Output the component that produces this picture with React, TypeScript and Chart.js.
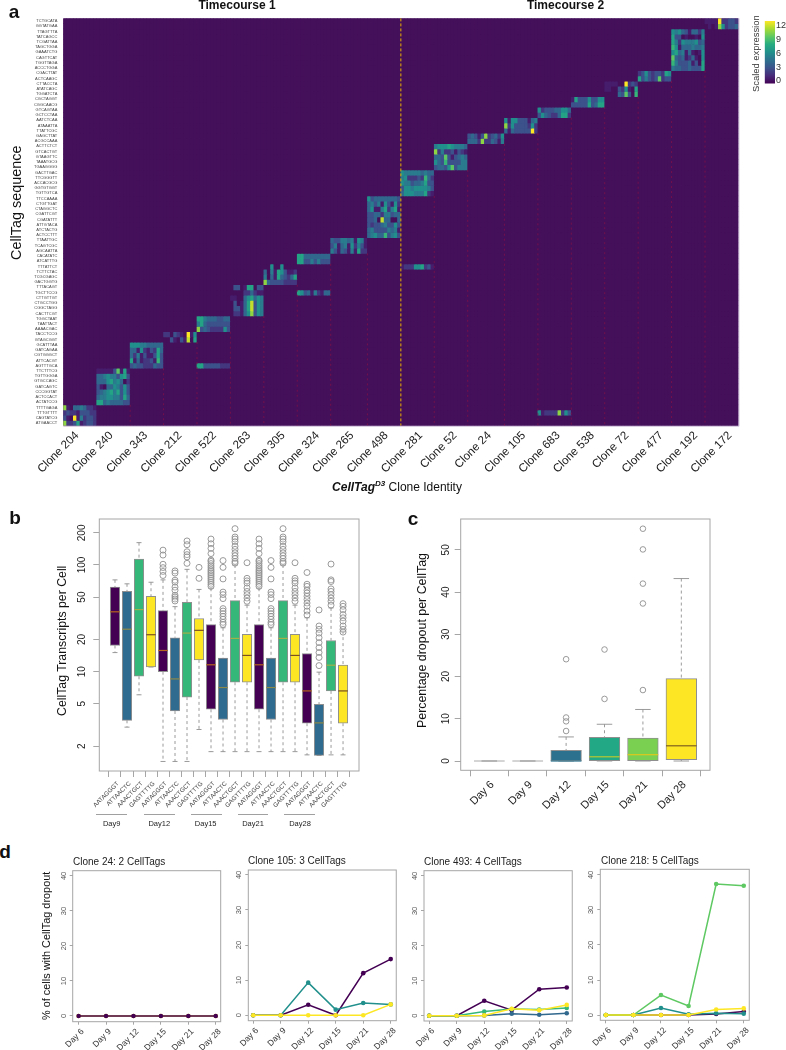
import React, { useEffect, useRef } from "react";
import { Chart, registerables } from "chart.js";

Chart.register(...registerables);

const FONT = '"Liberation Sans", Arial, sans-serif';

// ---------- panel a ----------
const tagLabels = ["TCTGCATA","GGTATGAA","TTAGTTTA","TATCAGCC","TCGATTAA","TAGCTGGA","GAAATCTG","CAGTTCAT","TGGTTAGA","ACCCTGGA","CGACTTAT","ACTCAAGC","CTTACCTA","ATATCAGC","TGGATCTA","CGCTAGGT","CGGCAACG","GTCAGTAA","GCTCCTAA","AATCTCAA","ATAAATTA","TTATTCGC","GAGCTTAT","ACGCCAAA","ACTTCTCT","GTCACTGT","GTAAGTTC","TAAATGCG","TGAAGGGG","GACTTGAC","TTCGGGTT","ACCACGCG","GGTGTGGT","TGTTGTCA","TTCCAAAA","CTGTTGAT","CTAGGCTC","CGATTCGT","CGATATTT","ATTGTACA","ATCTACTG","ACTCCTTT","TTAATTGC","TCAGTCGC","AGCAATTA","CACATATC","ATCATTTG","TTTATTCT","TCTTCTAC","TCGCGAGC","GACTGGTG","TTTACAGT","TGCTTCCG","CTTGTTGT","CTGCCTGG","CGGCTAGG","CACTTCGT","TGGCTAAT","TAATTACT","AAAACGAC","TACCTCCG","GTAGCGGT","GCATTTAA","GATCAGAA","CGTGGGCT","ATTCACGT","AGTTTGCA","TTCTTTCG","TGTTGGGA","GTGCCAGC","GATCAGTC","CCCGGTAT","ACTCCACT","ACTATCCG","TTTTGAGA","TTTGTTTT","CAGTATCG","ATGAACCT"];
const cloneNames = ["Clone 204","Clone 240","Clone 343","Clone 212","Clone 522","Clone 263","Clone 305","Clone 324","Clone 265","Clone 498","Clone 281","Clone 52","Clone 24","Clone 105","Clone 683","Clone 538","Clone 72","Clone 477","Clone 192","Clone 172"];
const cloneCellCounts = [10,10,10,10,10,10,10,10,11,10,10,10,11,10,10,10,10,10,10,10];

const cells204 = ["a104454221","2322133322","310c152332","a223712332"];
const cells240 = ["1111139171","4456553673","4446756402","3104465363","3456757363","4556655374","7745444433"];
const cells343 = ["6665544444","4416213274","4251311373","7141223183","3433222433"];
const cells212 = ["2203210c16","0031031b07"];
const cells522 = ["7754443344","5743333333","a343222263"];
const cells263 = ["0330177033","0000224211","1100467465","030147b365","033147b365","022146a365"];
const cells305 = ["0060060000","4051763112","5041743247","a433332222"];
const cells324 = ["7744444444","7733535333"];
const cells265 = ["43355451651","35145162531","53143151722"];
const cells498 = ["6344444443","4535163162","4611572571","3344255344","3340b44004","3233453363","4533335451","4564483563"];
const cells281 = ["6555554544","5622232842","6553445733","3665666653","4666555721"];
const cells52 = ["5666765554","a252231321","4439313454","6438333355","3443693555"];
const cells24 = ["34313a23426","4442a224315"];
const cells105 = ["6166333145","a263333262","41433333c2"];
const cells683 = ["6233344664","3643224772"];
const cells538 = ["1733363366","3333373477"];
const cells72 = ["111100c232","1100326107","0000439308"];
const cells477 = ["2363233276","7353239233"];
const cells192 = ["6564314425","7330100106","7526555634","8614445445","6745141016","9434124106","8533341307","5443343337"];
const cells172 = ["1111c22332","0101a62334"];
const extra522 = ["7733333222"];
const extra324 = ["7634152144"];
const extra281 = ["1222667231"];
const extra683 = ["612222a263"];

// clone index, first row, cells
const heatBlocks: [number, number, string[]][] = [
  [0,74,cells204],[1,67,cells240],[2,62,cells343],[3,60,cells212],[4,57,cells522],[5,51,cells263],
  [6,47,cells305],[7,45,cells324],[8,42,cells265],[9,34,cells498],[10,29,cells281],[11,24,cells52],
  [12,22,cells24],[13,19,cells105],[14,17,cells683],[15,15,cells538],[16,12,cells72],[17,10,cells477],
  [18,2,cells192],[19,0,cells172],
];
const heatExtras: [number, number, string[]][] = [[4,66,extra522],[7,52,extra324],[10,47,extra281],[14,75,extra683]];

const viridisStops: [number, number[]][] = [[0,[68,1,84]],[0.13,[71,44,122]],[0.25,[59,82,139]],[0.38,[44,114,142]],[0.5,[33,144,140]],[0.63,[39,173,129]],[0.75,[93,200,99]],[0.88,[170,220,50]],[1,[253,231,37]]];
const viridis = (t: number) => {
  for (let i = 1; i < viridisStops.length; i++) {
    const [a, ca] = viridisStops[i - 1];
    const [b, cb] = viridisStops[i];
    if (t <= b) {
      const f = (t - a) / (b - a);
      return `rgb(${ca.map((c, k) => Math.round(c + (cb[k] - c) * f)).join(",")})`;
    }
  }
  return "rgb(253,231,37)";
};
const BG = "#45105a";
const heatColor = (v: number) => (v === 0 ? BG : viridis(v / 12));

const cloneStart: number[] = [];
cloneCellCounts.reduce((acc, n, i) => { cloneStart[i] = acc; return acc + n; }, 0);
const totalCols = cloneCellCounts.reduce((a, b) => a + b, 0);
const colLabels = Array.from({ length: totalCols }, (_, i) => "c" + i);
const heatMatrix: number[][] = tagLabels.map(() => new Array(totalCols).fill(0));
[...heatBlocks, ...heatExtras].forEach(([clone, row, rows]) =>
  rows.forEach((s, r) => s.split("").forEach((ch, c) => { heatMatrix[row + r][cloneStart[clone] + c] = parseInt(ch, 16); }))
);

const fixY = (w: number) => (s: any) => { s.width = w; };
const fixX = (h: number) => (s: any) => { s.height = h; };
const setTicks = (vals: number[]) => (s: any) => { s.ticks = vals.map((value) => ({ value })); };

const framePlugin = (color = "#a6a6a6") => ({
  id: "frame",
  afterDatasetsDraw(chart: any) {
    const { ctx, chartArea: a } = chart;
    ctx.save();
    ctx.strokeStyle = color;
    ctx.lineWidth = 1;
    ctx.strokeRect(a.left, a.top, a.right - a.left, a.bottom - a.top);
    ctx.restore();
  },
});

// the clone names sit on an even spacing along the axis, not on the block centres
const cloneLabelSlots = cloneNames.map((_, i) => (77 + 34.37 * i - 63.3) / 3.342 - 0.5);

const heatConfig = (h: number, plotBottom: number): any => ({
  type: "bar",
  data: {
    labels: colLabels,
    datasets: heatMatrix.map((row, r) => ({
      data: row.map(() => [r, r + 1]),
      backgroundColor: row.map(heatColor),
      borderWidth: 0,
      grouped: false,
      barPercentage: 1,
      categoryPercentage: 1,
    })),
  },
  options: {
    animation: false, responsive: false, devicePixelRatio: 1,
    layout: { autoPadding: false, padding: { top: 5, right: 6.6, left: 0, bottom: 0 } },
    plugins: { legend: { display: false }, tooltip: { enabled: false } },
    scales: {
      x: {
        type: "category", offset: true,
        grid: { display: false, drawTicks: false }, border: { display: false },
        afterFit: fixX(h - plotBottom),
        afterBuildTicks: setTicks(cloneLabelSlots),
        ticks: {
          autoSkip: false, minRotation: 45, maxRotation: 45, padding: 3,
          color: "#1a1a1a", font: { family: FONT, size: 11.6 },
          callback: (_v: number, i: number) => cloneNames[i],
        },
      },
      y: {
        type: "linear", min: 0, max: tagLabels.length, reverse: true, bounds: "data",
        grid: { display: false, drawTicks: false }, border: { display: false },
        afterFit: fixY(63.3),
        afterBuildTicks: setTicks(tagLabels.map((_, i) => i + 0.5)),
        ticks: {
          autoSkip: false, padding: 6, color: "#444", font: { family: FONT, size: 4 },
          callback: (v: number) => tagLabels[v - 0.5],
        },
      },
    },
  },
  plugins: [{
    id: "cloneLines",
    beforeDatasetsDraw(chart: any) {
      const { ctx, chartArea: a } = chart;
      ctx.save();
      ctx.fillStyle = BG;
      ctx.fillRect(a.left, a.top, a.right - a.left, a.bottom - a.top);
      ctx.restore();
    },
    afterDatasetsDraw(chart: any) {
      const { ctx, chartArea: a, scales: { x, y } } = chart;
      ctx.save();
      heatBlocks.slice(0, -1).forEach(([clone, row, rows]) => {
        const px = x.getPixelForValue(cloneStart[clone] + cloneCellCounts[clone] - 0.5);
        const isSplit = cloneNames[clone] === "Clone 498";
        ctx.strokeStyle = isSplit ? "#e8b100" : "#7d1048";
        ctx.lineWidth = isSplit ? 1 : 0.8;
        ctx.setLineDash(isSplit ? [3, 2] : [2, 3]);
        ctx.beginPath();
        ctx.moveTo(px, isSplit ? y.getPixelForValue(0) : y.getPixelForValue(row + rows.length));
        ctx.lineTo(px, y.getPixelForValue(tagLabels.length));
        ctx.stroke();
      });
      ctx.setLineDash([]);
      ctx.lineWidth = 0.8;
      ctx.strokeStyle = "#bba6cc";
      ctx.beginPath();
      ctx.moveTo(a.left, a.bottom + 0.5);
      ctx.lineTo(a.right + 0.5, a.bottom + 0.5);
      ctx.lineTo(a.right + 0.5, a.top);
      ctx.stroke();
      ctx.restore();
    },
  }],
});

const scaleRange = [-0.6, 13];
const scaleTicks = [0, 3, 6, 9, 12];
const colorbarConfig = (): any => ({
  type: "bar",
  data: {
    labels: ["Scaled expression"],
    datasets: [{
      data: [scaleRange],
      barPercentage: 1, categoryPercentage: 1, borderWidth: 0,
      backgroundColor: (c: any) => {
        const a = c.chart.chartArea;
        if (!a) return BG;
        const g = c.chart.ctx.createLinearGradient(0, a.bottom, 0, a.top);
        viridisStops.forEach(([t, col]) => g.addColorStop(t, `rgb(${col.join(",")})`));
        return g;
      },
    }],
  },
  options: {
    animation: false, responsive: false, devicePixelRatio: 1,
    layout: { autoPadding: false, padding: { top: 11, bottom: 3, left: 19.7, right: 0 } },
    plugins: { legend: { display: false }, tooltip: { enabled: false } },
    scales: {
      x: { display: false },
      y: {
        type: "linear", position: "right", min: scaleRange[0], max: scaleRange[1], bounds: "data",
        grid: { display: false, drawTicks: false }, border: { display: false },
        afterFit: fixY(11),
        afterBuildTicks: setTicks(scaleTicks),
        ticks: { padding: 1, color: "#333", font: { family: FONT, size: 9 }, callback: (v: number) => String(v) },
      },
    },
  },
});

// ---------- shared box plot ----------
type Box = { lo: number; q1: number; med: number; q3: number; hi: number; out: number[] };
const GREY = "#8f8f8f";

const boxConfig = (o: {
  boxes: Box[]; fills: string[]; medians: string[]; labels: string[]; yTicks: number[]; log: boolean;
  xMin: number; xMax: number; yMin: number; yMax: number; left: number; bottomH: number; right: number; top: number;
  barW: number; capW: number; xFont: number; yFont: number; r: number; yPad: number; xColor: string; xPad: number; xShift: number;
}): any => ({
  type: "bar",
  data: {
    datasets: [
      {
        type: "bar",
        data: o.boxes.map((b, i) => ({ x: i + 1, y: [b.q1, b.q3] })),
        backgroundColor: o.fills, borderColor: GREY, borderWidth: 1, borderSkipped: false,
        barThickness: o.barW,
      },
      {
        type: "scatter",
        data: o.boxes.flatMap((b, i) => b.out.map((y) => ({ x: i + 1, y }))),
        pointStyle: "circle", pointRadius: o.r, backgroundColor: "rgba(255,255,255,0.2)",
        borderColor: GREY, borderWidth: 0.9, showLine: false,
      },
    ],
  },
  options: {
    animation: false, responsive: false, devicePixelRatio: 1,
    layout: { autoPadding: false, padding: { top: o.top, right: o.right, left: 0, bottom: 0 } },
    plugins: { legend: { display: false }, tooltip: { enabled: false } },
    scales: {
      x: {
        type: "linear", offset: false, min: o.xMin, max: o.xMax, bounds: "data",
        grid: { display: true, drawOnChartArea: false, drawTicks: true, tickLength: 6, color: GREY, lineWidth: 0.8 },
        border: { display: false },
        afterFit: fixX(o.bottomH),
        afterBuildTicks: setTicks(o.labels.map((_, i) => i + 1)),
        ticks: {
          autoSkip: false, minRotation: 45, maxRotation: 45, padding: o.xPad, labelOffset: o.xShift, color: o.xColor,
          font: { family: FONT, size: o.xFont }, callback: (v: number) => o.labels[v - 1],
        },
      },
      y: {
        type: o.log ? "logarithmic" : "linear", min: o.yMin, max: o.yMax, bounds: "data",
        grid: { display: true, drawOnChartArea: false, drawTicks: true, tickLength: 6, color: GREY, lineWidth: 0.8 },
        border: { display: false },
        afterFit: fixY(o.left),
        afterBuildTicks: setTicks(o.yTicks),
        ticks: {
          autoSkip: false, minRotation: 90, maxRotation: 90, crossAlign: "center", padding: o.yPad,
          color: "#222", font: { family: FONT, size: o.yFont }, callback: (v: number) => String(v),
        },
      },
    },
  },
  plugins: [
    {
      id: "whiskers",
      beforeDatasetsDraw(chart: any) {
        const { ctx, scales: { x, y } } = chart;
        ctx.save();
        ctx.strokeStyle = GREY;
        ctx.lineWidth = 0.9;
        o.boxes.forEach((b, i) => {
          const px = x.getPixelForValue(i + 1);
          ctx.setLineDash([3, 3]);
          ctx.beginPath();
          ctx.moveTo(px, y.getPixelForValue(b.hi));
          ctx.lineTo(px, y.getPixelForValue(b.q3));
          ctx.moveTo(px, y.getPixelForValue(b.q1));
          ctx.lineTo(px, y.getPixelForValue(b.lo));
          ctx.stroke();
          ctx.setLineDash([]);
          ctx.beginPath();
          [b.hi, b.lo].forEach((v) => {
            ctx.moveTo(px - o.capW / 2, y.getPixelForValue(v));
            ctx.lineTo(px + o.capW / 2, y.getPixelForValue(v));
          });
          ctx.stroke();
        });
        ctx.restore();
      },
      afterDatasetsDraw(chart: any) {
        const { ctx, scales: { x, y } } = chart;
        ctx.save();
        ctx.lineWidth = 1.2;
        o.boxes.forEach((b, i) => {
          const px = x.getPixelForValue(i + 1);
          ctx.strokeStyle = o.medians[i];
          ctx.beginPath();
          ctx.moveTo(px - o.barW / 2, y.getPixelForValue(b.med));
          ctx.lineTo(px + o.barW / 2, y.getPixelForValue(b.med));
          ctx.stroke();
        });
        ctx.restore();
      },
    },
    framePlugin(),
  ],
});

// ---------- panel b ----------
const tagNamesB = ["AATAGGGT","ATTAACTC","AAACTGCT","GAGTTTTG"];
const labelsB = [...tagNamesB, ...tagNamesB, ...tagNamesB, ...tagNamesB, ...tagNamesB];
const fillsTag = ["#440154","#2f6a8f","#35b779","#fde725"];
const mediansTag = ["#b5651d","#8c8a4a","#a2b04a","#7a4f22"];
const fillsB = [...fillsTag, ...fillsTag, ...fillsTag, ...fillsTag, ...fillsTag];
const mediansB = [...mediansTag, ...mediansTag, ...mediansTag, ...mediansTag, ...mediansTag];
const daysB = ["Day9","Day12","Day15","Day21","Day28"];
const out9 = [175,158,143,128,111,108,103,98,94,90,87,84,81,78,75,72,69,66,63];
const out10 = [110,95,74,55.7,52.7,48.4,39,37,35,33,31,29,27.7];
const out11 = [219,183,175,165,150,140,130,122,115,108,104];
const out12 = [105,75,71,67.6,60.9,56.5,52.7,49,45.7];
const boxesB: Box[] = [
  { lo: 15.1, q1: 17.6, med: 36.4, q3: 62, hi: 72.5, out: [] },
  { lo: 3.02, q1: 3.5, med: 25, q3: 56.5, hi: 66.6, out: [] },
  { lo: 6.07, q1: 9.05, med: 38.2, q3: 113.7, hi: 162, out: [] },
  { lo: 11.05, q1: 11.05, med: 22.2, q3: 50.8, hi: 68.9, out: [] },
  { lo: 1.44, q1: 10, med: 15.8, q3: 37.4, hi: 72.5, out: [137.8,123.9,101.5,94.4,86.9,79.7] },
  { lo: 1.44, q1: 4.28, med: 8.55, q3: 20.8, hi: 40.7, out: [88,84,72,69,62,58,52,50,48,46] },
  { lo: 1.44, q1: 5.78, med: 23, q3: 44.7, hi: 91, out: [168,155,133,125,119,103.6] },
  { lo: 2.87, q1: 12.9, med: 24.4, q3: 31.5, hi: 59, out: [95,75] },
  { lo: 1.78, q1: 4.44, med: 11.6, q3: 27.7, hi: 60.6, out: out9 },
  { lo: 1.78, q1: 3.56, med: 7.1, q3: 13.4, hi: 25.8, out: out10 },
  { lo: 1.78, q1: 7.96, med: 20.5, q3: 46.3, hi: 100, out: out11 },
  { lo: 1.78, q1: 7.96, med: 14.2, q3: 22.4, hi: 42, out: out12 },
  { lo: 1.78, q1: 4.44, med: 11.6, q3: 27.7, hi: 60.6, out: out9 },
  { lo: 1.78, q1: 3.56, med: 7.1, q3: 13.4, hi: 25.8, out: out10 },
  { lo: 1.78, q1: 7.96, med: 20.5, q3: 46.3, hi: 100, out: out11 },
  { lo: 1.78, q1: 7.96, med: 14.2, q3: 22.4, hi: 42, out: out12 },
  { lo: 1.66, q1: 3.29, med: 6.6, q3: 14.8, hi: 32, out: [85,66,63,58,54.6,50.9,47.5,44,41,37,34] },
  { lo: 1.64, q1: 1.64, med: 3.31, q3: 4.94, hi: 9.9, out: [37.9,26.8,24.9,23,20.8,18.7,16.8,15.1,13.6,11.4] },
  { lo: 1.66, q1: 6.6, med: 11.5, q3: 19.6, hi: 39.6, out: [102,72.5,70,59.7,56.5,52.7,49,45.7,42] },
  { lo: 1.66, q1: 3.29, med: 6.6, q3: 11.5, hi: 24, out: [43.4,41,38,34.3,32,29.8,26.8,24.9,23.5] },
];
const ticksB = [2, 5, 10, 20, 50, 100, 200];

// ---------- panel c ----------
const daysAll = ["Day 6","Day 9","Day 12","Day 15","Day 21","Day 28"];
const fillsC = ["#b8b8b8","#b8b8b8","#2c728e","#22a884","#7ad151","#fde725"];
const mediansC = ["#b8b8b8","#b8b8b8","#2c728e","#b8c830","#dcc81e","#7d5f1e"];
const boxesC: Box[] = [
  { lo: 0, q1: 0, med: 0, q3: 0, hi: 0, out: [] },
  { lo: 0, q1: 0, med: 0, q3: 0, hi: 0, out: [] },
  { lo: 0, q1: 0, med: 0, q3: 2.5, hi: 5.7, out: [7.1,9.4,10.3,24.1] },
  { lo: 0, q1: 0, med: 1, q3: 5.6, hi: 8.7, out: [14.7,26.4] },
  { lo: 0, q1: 0, med: 1.5, q3: 5.4, hi: 12.2, out: [16.8,37.3,42,50.1,55] },
  { lo: 0, q1: 0.3, med: 3.6, q3: 19.5, hi: 43.2, out: [] },
];
const ticksC = [0, 10, 20, 30, 40, 50];

// ---------- panel d ----------
const PURPLE = "#440154", BLUE = "#31688e", TEAL = "#21908c", MINT = "#35b779", LIME = "#5ec962", YELLOW = "#fde725";
const c24Second = [0,0,0,0,0,0];
const c24First = [0,0,0,0,0,0];
const c105Purple = [0,0,3,0,12,16];
const c105Teal = [0,0,9.3,1.6,3.5,3.1];
const c105Yellow = [0,0,0,0,0,3.1];
const c493Purple = [0,0,4.3,1.6,7.6,8.1];
const c493Blue = [0,0,0.1,0.6,0.3,0.7];
const c493Mint = [0,0,1.2,1.9,1.8,2.2];
const c493Yellow = [0,0,0.1,2,1.6,3.1];
const c218Purple = [0,0,0,0,0.3,1];
const c218Teal = [0,0,2,0.2,0.5,0.4];
const c218Lime = [0,0,5.7,2.6,37.4,36.9];
const c218Yellow = [0,0,0,0,1.6,1.9];
const ticksD = [0, 10, 20, 30, 40];

// listed from bottom to top; Chart.js paints the first dataset last, so the list is reversed
const lineConfig = (series: [string, number[]][], o: { left: number; bottomH: number; top: number; xMin: number; xMax: number; yMin: number; yMax: number }): any => ({
  type: "line",
  data: {
    datasets: [...series].reverse().map(([color, vals]) => ({
      data: vals.map((y, i) => ({ x: i + 1, y })),
      borderColor: color, backgroundColor: color, borderWidth: 1.5, pointRadius: 2.3, pointBorderWidth: 0, tension: 0,
    })),
  },
  options: {
    animation: false, responsive: false, devicePixelRatio: 1,
    layout: { autoPadding: false, padding: { top: o.top, right: 1, left: 0, bottom: 0 } },
    plugins: { legend: { display: false }, tooltip: { enabled: false } },
    scales: {
      x: {
        type: "linear", min: o.xMin, max: o.xMax, bounds: "data",
        grid: { display: true, drawOnChartArea: false, drawTicks: true, tickLength: 3, color: GREY, lineWidth: 0.8 },
        border: { display: false },
        afterFit: fixX(o.bottomH),
        afterBuildTicks: setTicks(daysAll.map((_, i) => i + 1)),
        ticks: {
          autoSkip: false, minRotation: 45, maxRotation: 45, padding: 2, labelOffset: 4, color: "#333",
          font: { family: FONT, size: 8.5 }, callback: (v: number) => daysAll[v - 1],
        },
      },
      y: {
        type: "linear", min: o.yMin, max: o.yMax, bounds: "data",
        grid: { display: true, drawOnChartArea: false, drawTicks: true, tickLength: 3, color: GREY, lineWidth: 0.8 },
        border: { display: false },
        afterFit: fixY(o.left),
        afterBuildTicks: setTicks(ticksD),
        ticks: {
          autoSkip: false, minRotation: 90, maxRotation: 90, crossAlign: "center", padding: 2, color: "#555",
          font: { family: FONT, size: 7.5 }, callback: (v: number) => String(v),
        },
      },
    },
  },
  plugins: [framePlugin()],
});

const ChartBox = ({ left, top, width, height, config }: { left: number; top: number; width: number; height: number; config: () => any }) => {
  const ref = useRef<HTMLCanvasElement>(null);
  useEffect(() => {
    const chart = new Chart(ref.current!, config());
    return () => chart.destroy();
  }, []);
  return <canvas ref={ref} width={width} height={height} style={{ position: "absolute", left, top, width, height, display: "block" }} />;
};

const Txt = ({ x, y, size, bold, color, align, children }: any) => (
  <div style={{
    position: "absolute", left: x, top: y, whiteSpace: "nowrap", fontFamily: FONT, fontSize: size,
    fontWeight: bold ? 700 : 400, color: color || "#111", lineHeight: 1,
    transform: `translate(${align === "left" ? "0" : "-50%"}, -50%)`,
  }}>{children}</div>
);

// rotated titles use vertical writing so the glyphs stay on whole pixels
const VTxt = ({ x, y, size, color, children }: any) => {
  const half = Math.round(size);
  return (
    <div style={{
      position: "absolute", left: Math.round(x) - half, top: Math.round(y) - 150, width: half * 2, height: 300,
      display: "flex", alignItems: "center", justifyContent: "center", whiteSpace: "nowrap",
      writingMode: "vertical-rl", transform: "rotate(180deg)",
      fontFamily: FONT, fontSize: size, color: color || "#111", lineHeight: 1,
    }}>{children}</div>
  );
};

const Line = ({ x1, x2, y }: { x1: number; x2: number; y: number }) => (
  <div style={{ position: "absolute", left: x1, top: y, width: x2 - x1, height: 1, background: "#a0a0a0" }} />
);

const dayLinesB = [[96,127],[144,175],[190.7,221.7],[237.7,268],[284,315]];
const dayCentersB = [111.7,159.3,205.7,253,300];

export default function App() {
  return (
    <div style={{ position: "absolute", left: 0, top: 0, width: 786, height: 1050, background: "#fff", overflow: "hidden", filter: "blur(0.3px)" }}>
      <ChartBox left={0} top={10} width={745} height={470} config={() => heatConfig(470, 425.7 - 10)} />
      <ChartBox left={745} top={10} width={41} height={80} config={colorbarConfig} />

      <ChartBox left={0} top={510} width={364} height={305} config={() => boxConfig({
        boxes: boxesB, fills: fillsB, medians: mediansB, labels: labelsB, yTicks: ticksB, log: true,
        xMin: -0.308, xMax: 21.33, yMin: 1.172, yMax: 269.8, left: 99.3, bottomH: 305 - (771 - 510), right: 5,
        top: 6.7, barW: 9.5, capW: 5, xFont: 6.2, yFont: 10, r: 3, yPad: 3, xColor: "#444", xPad: 3, xShift: 3,
      })} />
      <ChartBox left={400} top={510} width={315} height={305} config={() => boxConfig({
        boxes: boxesC, fills: fillsC, medians: mediansC, labels: daysAll, yTicks: ticksC, log: false,
        xMin: 0.255, xMax: 6.747, yMin: -2.2, yMax: 57.3, left: 60.7, bottomH: 305 - (770.3 - 510), right: 5,
        top: 8.3, barW: 30.7, capW: 15.5, xFont: 11, yFont: 10, r: 2.8, yPad: 3, xColor: "#222", xPad: 2, xShift: 3,
      })} />

      <ChartBox left={50} top={860} width={175} height={190} config={() => lineConfig([[YELLOW, c24Second],[PURPLE, c24First]], { left: 22.7, bottomH: 190 - 161.7, top: 10.7, xMin: 0.785, xMax: 6.18, yMin: -1.63, yMax: 41.5 })} />
      <ChartBox left={225} top={860} width={175.3} height={190} config={() => lineConfig([[PURPLE, c105Purple],[TEAL, c105Teal],[YELLOW, c105Yellow]], { left: 23.3, bottomH: 190 - 160.7, top: 10, xMin: 0.822, xMax: 6.2, yMin: -1.55, yMax: 41.4 })} />
      <ChartBox left={400} top={860} width={176} height={190} config={() => lineConfig([[PURPLE, c493Purple],[BLUE, c493Blue],[MINT, c493Mint],[YELLOW, c493Yellow]], { left: 24, bottomH: 190 - 161, top: 10.7, xMin: 0.81, xMax: 6.2, yMin: -1.5, yMax: 41.5 })} />
      <ChartBox left={578} top={860} width={175} height={190} config={() => lineConfig([[PURPLE, c218Purple],[TEAL, c218Teal],[LIME, c218Lime],[YELLOW, c218Yellow]], { left: 22.3, bottomH: 190 - 160.3, top: 9.3, xMin: 0.8, xMax: 6.2, yMin: -1.5, yMax: 41.6 })} />

      <Txt x={14} y={11} size={19} bold>a</Txt>
      <Txt x={15} y={517} size={19} bold>b</Txt>
      <Txt x={413} y={518} size={19} bold>c</Txt>
      <Txt x={5} y={851} size={19} bold>d</Txt>

      <Txt x={237} y={5} size={12} bold>Timecourse 1</Txt>
      <Txt x={565.5} y={5} size={12} bold>Timecourse 2</Txt>
      <VTxt x={16} y={203} size={14.4}>CellTag sequence</VTxt>
      <VTxt x={756} y={54} size={9.4} color="#333">Scaled expression</VTxt>
      <Txt x={397} y={487} size={12}>
        <b><i>CellTag<sup style={{ fontSize: 8, lineHeight: 0 }}>D3</sup></i></b> Clone Identity
      </Txt>

      <VTxt x={62} y={641} size={12.3}>CellTag Transcripts per Cell</VTxt>
      <VTxt x={422} y={641} size={12.4}>Percentage dropout per CellTag</VTxt>
      {dayLinesB.map(([a, b], i) => <Line key={i} x1={a} x2={b} y={814} />)}
      {daysB.map((d, i) => <Txt key={d} x={dayCentersB[i]} y={824} size={7.5} color="#222">{d}</Txt>)}

      <VTxt x={46} y={946} size={10.9}>% of cells with CellTag dropout</VTxt>
      <Txt x={73} y={862} size={10} align="left" color="#222">Clone 24: 2 CellTags</Txt>
      <Txt x={248} y={861} size={10} align="left" color="#222">Clone 105: 3 CellTags</Txt>
      <Txt x={424} y={862} size={10} align="left" color="#222">Clone 493: 4 CellTags</Txt>
      <Txt x={601} y={861} size={10} align="left" color="#222">Clone 218: 5 CellTags</Txt>
    </div>
  );
}
